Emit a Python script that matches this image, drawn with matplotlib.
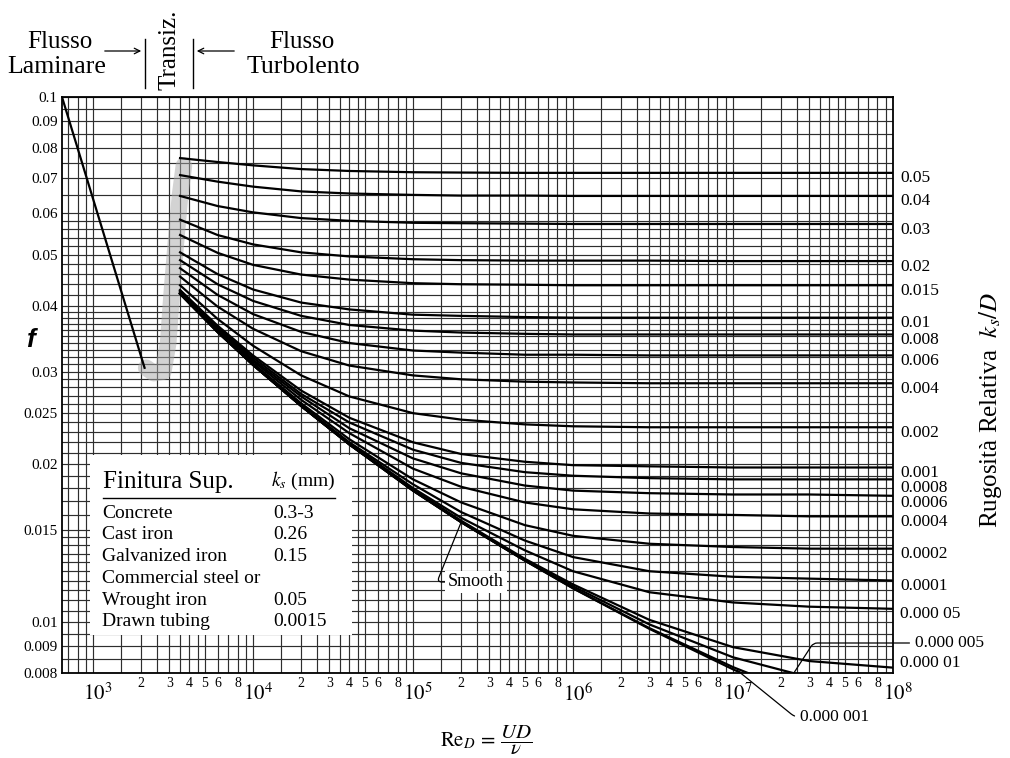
import matplotlib.pyplot as plt
from matplotlib.lines import Line2D
from matplotlib.patches import Rectangle, FancyArrowPatch
from matplotlib.ticker import NullLocator

plt.rcParams["font.family"] = "serif"
plt.rcParams["font.serif"] = ["Liberation Serif", "DejaVu Serif"]
plt.rcParams["mathtext.fontset"] = "stix"

# Reynolds numbers at which the curves were read
re_points = [3500, 6000, 1e4, 2e4, 4e4, 1e5, 2e5, 5e5, 1e6, 3e6, 1e7, 3e7, 1e8]

# friction factor
f_0_05 = [0.0765, 0.0752, 0.0741, 0.0729, 0.0723, 0.0719, 0.0718, 0.0717, 0.0717, 0.0717, 0.0717, 0.0717, 0.0717]
f_0_04 = [0.0710, 0.0690, 0.0675, 0.0661, 0.0655, 0.0651, 0.0649, 0.0649, 0.0648, 0.0648, 0.0648, 0.0648, 0.0648]
f_0_03 = [0.0648, 0.0620, 0.0603, 0.0588, 0.0581, 0.0576, 0.0575, 0.0574, 0.0573, 0.0573, 0.0573, 0.0573, 0.0573]
f_0_02 = [0.0584, 0.0546, 0.0524, 0.0506, 0.0497, 0.0491, 0.0489, 0.0488, 0.0488, 0.0488, 0.0487, 0.0487, 0.0487]
f_0_015 = [0.0546, 0.0505, 0.0479, 0.0459, 0.0449, 0.0442, 0.0440, 0.0439, 0.0438, 0.0438, 0.0438, 0.0438, 0.0438]
f_0_01 = [0.0506, 0.0460, 0.0430, 0.0406, 0.0394, 0.0385, 0.0383, 0.0381, 0.0380, 0.0380, 0.0380, 0.0380, 0.0380]
f_0_008 = [0.0489, 0.0440, 0.0409, 0.0383, 0.0368, 0.0359, 0.0356, 0.0354, 0.0353, 0.0353, 0.0353, 0.0353, 0.0353]
f_0_006 = [0.0472, 0.0420, 0.0386, 0.0357, 0.0340, 0.0329, 0.0326, 0.0323, 0.0323, 0.0322, 0.0322, 0.0322, 0.0322]
f_0_004 = [0.0455, 0.0399, 0.0362, 0.0328, 0.0308, 0.0295, 0.0290, 0.0287, 0.0286, 0.0285, 0.0285, 0.0285, 0.0285]
f_0_002 = [0.0438, 0.0378, 0.0336, 0.0295, 0.0269, 0.0250, 0.0243, 0.0238, 0.0236, 0.0235, 0.0235, 0.0235, 0.0235]
f_0_001 = [0.0429, 0.0367, 0.0322, 0.0276, 0.0245, 0.0220, 0.0209, 0.0202, 0.0199, 0.0198, 0.0197, 0.0197, 0.0197]
f_0_0008 = [0.0428, 0.0365, 0.0319, 0.0272, 0.0240, 0.0213, 0.0201, 0.0193, 0.0190, 0.0188, 0.0187, 0.0187, 0.0187]
f_0_0006 = [0.0426, 0.0363, 0.0316, 0.0269, 0.0234, 0.0205, 0.0192, 0.0182, 0.0178, 0.0176, 0.0175, 0.0175, 0.0174]
f_0_0004 = [0.0424, 0.0361, 0.0314, 0.0265, 0.0229, 0.0196, 0.0181, 0.0169, 0.0164, 0.0161, 0.0160, 0.0159, 0.0159]
f_0_0002 = [0.0423, 0.0359, 0.0311, 0.0261, 0.0223, 0.0187, 0.0169, 0.0153, 0.0146, 0.0141, 0.0139, 0.0138, 0.0138]
f_0_0001 = [0.0422, 0.0358, 0.0310, 0.0259, 0.0220, 0.0183, 0.0162, 0.0143, 0.0133, 0.0125, 0.0122, 0.0121, 0.0120]
f_0_00005 = [0.0422, 0.0358, 0.0309, 0.0258, 0.0219, 0.0180, 0.0158, 0.0137, 0.0125, 0.0114, 0.0109, 0.0107, 0.0106]
f_0_00001 = [0.0422, 0.0357, 0.0309, 0.0258, 0.0218, 0.0179, 0.0156, 0.0132, 0.0118, 0.0101, 0.00896, 0.00843, 0.00819]
f_0_000005 = [0.0422, 0.0357, 0.0309, 0.0258, 0.0218, 0.0178, 0.0155, 0.0131, 0.0117, 0.0099, 0.00857, 0.00785, 0.00747]
f_0_000001 = [0.0422, 0.0357, 0.0309, 0.0258, 0.0218, 0.0178, 0.0155, 0.0131, 0.0116, 0.00974, 0.00821, 0.00719, 0.00645]
f_smooth = [0.0422, 0.0357, 0.0309, 0.0258, 0.0218, 0.0178, 0.0155, 0.0131, 0.0116, 0.00971, 0.00813, 0.00700, 0.00602]

# curves labelled at the right edge
edge_labels = ["0.05", "0.04", "0.03", "0.02", "0.015", "0.01", "0.008", "0.006", "0.004",
               "0.002", "0.001", "0.0008", "0.0006", "0.0004", "0.0002", "0.0001",
               "0.000 05", "0.000 01"]
edge_curves = [f_0_05, f_0_04, f_0_03, f_0_02, f_0_015, f_0_01, f_0_008, f_0_006, f_0_004,
               f_0_002, f_0_001, f_0_0008, f_0_0006, f_0_0004, f_0_0002, f_0_0001,
               f_0_00005, f_0_00001]

laminar_re = [640, 2100]
laminar_f = [0.100, 0.0305]

transition_re = [2150, 2400, 2750, 2950, 3100, 3300, 3500, 3700]
transition_f = [0.0305, 0.0298, 0.0300, 0.0340, 0.0420, 0.0530, 0.0650, 0.0740]

surface_names = ["Concrete", "Cast iron", "Galvanized iron", "Commercial steel or",
                 "Wrought iron", "Drawn tubing"]
surface_ks = ["0.3-3", "0.26", "0.15", "", "0.05", "0.0015"]

decades = [1e3, 1e4, 1e5, 1e6, 1e7, 1e8]
decade_labels = ["$10^3$", "$10^4$", "$10^5$", "$10^6$", "$10^7$", "$10^8$"]
minor_mult = [2, 3, 4, 5, 6, 8]

y_ticks = [0.1, 0.09, 0.08, 0.07, 0.06, 0.05, 0.04, 0.03, 0.025, 0.02, 0.015, 0.01, 0.009, 0.008]
y_tick_labels = ["0.1", "0.09", "0.08", "0.07", "0.06", "0.05", "0.04", "0.03", "0.025",
                 "0.02", "0.015", "0.01", "0.009", "0.008"]

W, H = 1010, 758


def fx(x):
    return x / W


def fy(y):
    return 1 - y / H


fig = plt.figure(figsize=(W / 100, H / 100), dpi=100)
ax = fig.add_axes([fx(62), fy(673), (893 - 62) / W, (673 - 97) / H])
ax.set_xscale("log")
ax.set_yscale("log")
ax.set_xlim(640, 1e8)
ax.set_ylim(0.008, 0.1)

# chart-paper grid
grid_mant = [1, 1.5, 2, 2.5, 3, 3.5, 4, 4.5, 5, 6, 7, 8, 9]
for p in range(2, 8):
    for m in grid_mant:
        v = m * 10 ** p
        if 640 < v < 1e8:
            ax.axvline(v, color="#2e2e2e", lw=0.85, zorder=1)

ygrid = []
v = 0.008
while v < 0.015 - 1e-9:
    ygrid.append(v)
    v += 0.0005
v = 0.015
while v < 0.04 - 1e-9:
    ygrid.append(v)
    v += 0.001
v = 0.04
while v < 0.06 - 1e-9:
    ygrid.append(v)
    v += 0.002
v = 0.06
while v < 0.1 + 1e-9:
    ygrid.append(v)
    v += 0.005
for h in ygrid:
    ax.axhline(h, color="#2e2e2e", lw=0.85, zorder=1)

for s in ax.spines.values():
    s.set_linewidth(1.3)
    s.set_zorder(4)

# ticks: small multipliers on the axis, decades written just below
minor_pos = [m * d for d in decades[:-1] for m in minor_mult]
minor_lab = [str(m) for d in decades[:-1] for m in minor_mult]
ax.set_xticks(decades, labels=[""] * len(decades))
ax.set_xticks(minor_pos, labels=minor_lab, minor=True)
ax.tick_params(axis="x", which="both", length=0)
ax.tick_params(axis="x", which="minor", pad=3, labelsize=10)
for d, lab in zip(decades, decade_labels):
    ax.annotate(lab, xy=(d, 0), xycoords=ax.get_xaxis_transform(),
                xytext=(-7, -7.5), textcoords="offset points",
                ha="left", va="top", fontsize=15, annotation_clip=False)
ax.set_yticks(y_ticks, labels=y_tick_labels)
ax.yaxis.set_minor_locator(NullLocator())
ax.tick_params(axis="y", length=0, pad=3, labelsize=11)

# transition zone shading
ax.plot(transition_re, transition_f, color="#a8a8a8", lw=12, alpha=0.5,
        solid_capstyle="round", solid_joinstyle="round", zorder=2)

# laminar line
ax.plot(laminar_re, laminar_f, color="black", lw=1.6, zorder=3)

# turbulent curves
for arr in edge_curves + [f_0_000005, f_0_000001, f_smooth]:
    ax.plot(re_points, arr, color="black", lw=1.6, zorder=3)

label_shift = {"0.0008": -6, "0.0006": -5, "0.000 01": 3}
for lab, arr in zip(edge_labels, edge_curves):
    dy = label_shift.get(lab, -4)
    ax.annotate(lab, xy=(1.0, arr[-1]), xycoords=ax.get_yaxis_transform(),
                xytext=(5, dy), textcoords="offset points", va="center", ha="left",
                fontsize=12.5)

ax.annotate("0.000 005", xy=(2.4e7, 0.0080), xytext=(915, H - 643),
            textcoords="figure pixels", va="center", ha="left", fontsize=12.5,
            annotation_clip=False,
            arrowprops=dict(arrowstyle="-", color="black", lw=0.9, relpos=(0, 0.5),
                            shrinkA=2, shrinkB=0,
                            connectionstyle="angle,angleA=0,angleB=57,rad=4"))
ax.annotate("0.000 001", xy=(1.06e7, 0.0081), xytext=(800, H - 717),
            textcoords="figure pixels", va="center", ha="left", fontsize=12.5,
            annotation_clip=False,
            arrowprops=dict(arrowstyle="-", color="black", lw=0.9, relpos=(0, 0.5),
                            shrinkA=2, shrinkB=0,
                            connectionstyle="angle,angleA=0,angleB=-39,rad=5"))
ax.annotate("Smooth", xy=(2.0e5, 0.0155), xytext=(448, H - 582),
            textcoords="figure pixels", va="center", ha="left", fontsize=13,
            bbox=dict(boxstyle="square,pad=0.15", fc="white", ec="none"),
            zorder=5,
            arrowprops=dict(arrowstyle="-", color="black", lw=0.9, relpos=(0, 0.5),
                            shrinkA=0, shrinkB=0,
                            connectionstyle="angle,angleA=0,angleB=68,rad=5"))

# axis titles
fig.text(fx(30), fy(340), "f", fontsize=19, fontweight="bold", fontstyle="italic",
         family="Liberation Sans", ha="center", va="center")
fig.text(fx(486), fy(740), r"$\mathrm{Re}_D\,=\,\dfrac{UD}{\nu}$", fontsize=15,
         ha="center", va="center")
fig.text(fx(991), fy(410), r"Rugosità Relativa  $k_s/D$", fontsize=18,
         rotation=90, ha="center", va="center")

# flow regime header
fig.text(fx(60), fy(42), "Flusso", fontsize=18, ha="center", va="center")
fig.text(fx(57), fy(67), "Laminare", fontsize=18.5, ha="center", va="center")
fig.text(fx(302), fy(42), "Flusso", fontsize=18, ha="center", va="center")
fig.text(fx(303), fy(67), "Turbolento", fontsize=18.5, ha="center", va="center")
fig.text(fx(169), fy(50), "Transiz.", fontsize=18, rotation=90, ha="center", va="center")
for xv in [145, 193]:
    fig.add_artist(Line2D([fx(xv), fx(xv)], [fy(39), fy(88)], color="black", lw=1))
fig.add_artist(FancyArrowPatch((fx(102), fy(51)), (fx(144), fy(51)),
                               transform=fig.transFigure, arrowstyle="->",
                               mutation_scale=10, lw=0.9, color="black"))
fig.add_artist(FancyArrowPatch((fx(237), fy(51)), (fx(194), fy(51)),
                               transform=fig.transFigure, arrowstyle="->",
                               mutation_scale=10, lw=0.9, color="black"))

# surface finish table
fig.add_artist(Rectangle((fx(90), fy(635)), (352 - 90) / W, (635 - 455) / H,
                         transform=fig.transFigure, facecolor="white",
                         edgecolor="none", zorder=1))
fig.text(fx(103), fy(482), "Finitura Sup.", fontsize=18, ha="left", va="center")
fig.text(fx(271), fy(481), r"$k_s$ (mm)", fontsize=14, ha="left", va="center")
fig.add_artist(Line2D([fx(103), fx(335)], [fy(498), fy(498)], color="black", lw=1))
for i, (name, ks) in enumerate(zip(surface_names, surface_ks)):
    yy = 513 + i * 21.8
    fig.text(fx(102), fy(yy), name, fontsize=14, ha="left", va="center")
    fig.text(fx(273), fy(yy), ks, fontsize=14, ha="left", va="center")

fig.savefig("out.png", dpi=100)
